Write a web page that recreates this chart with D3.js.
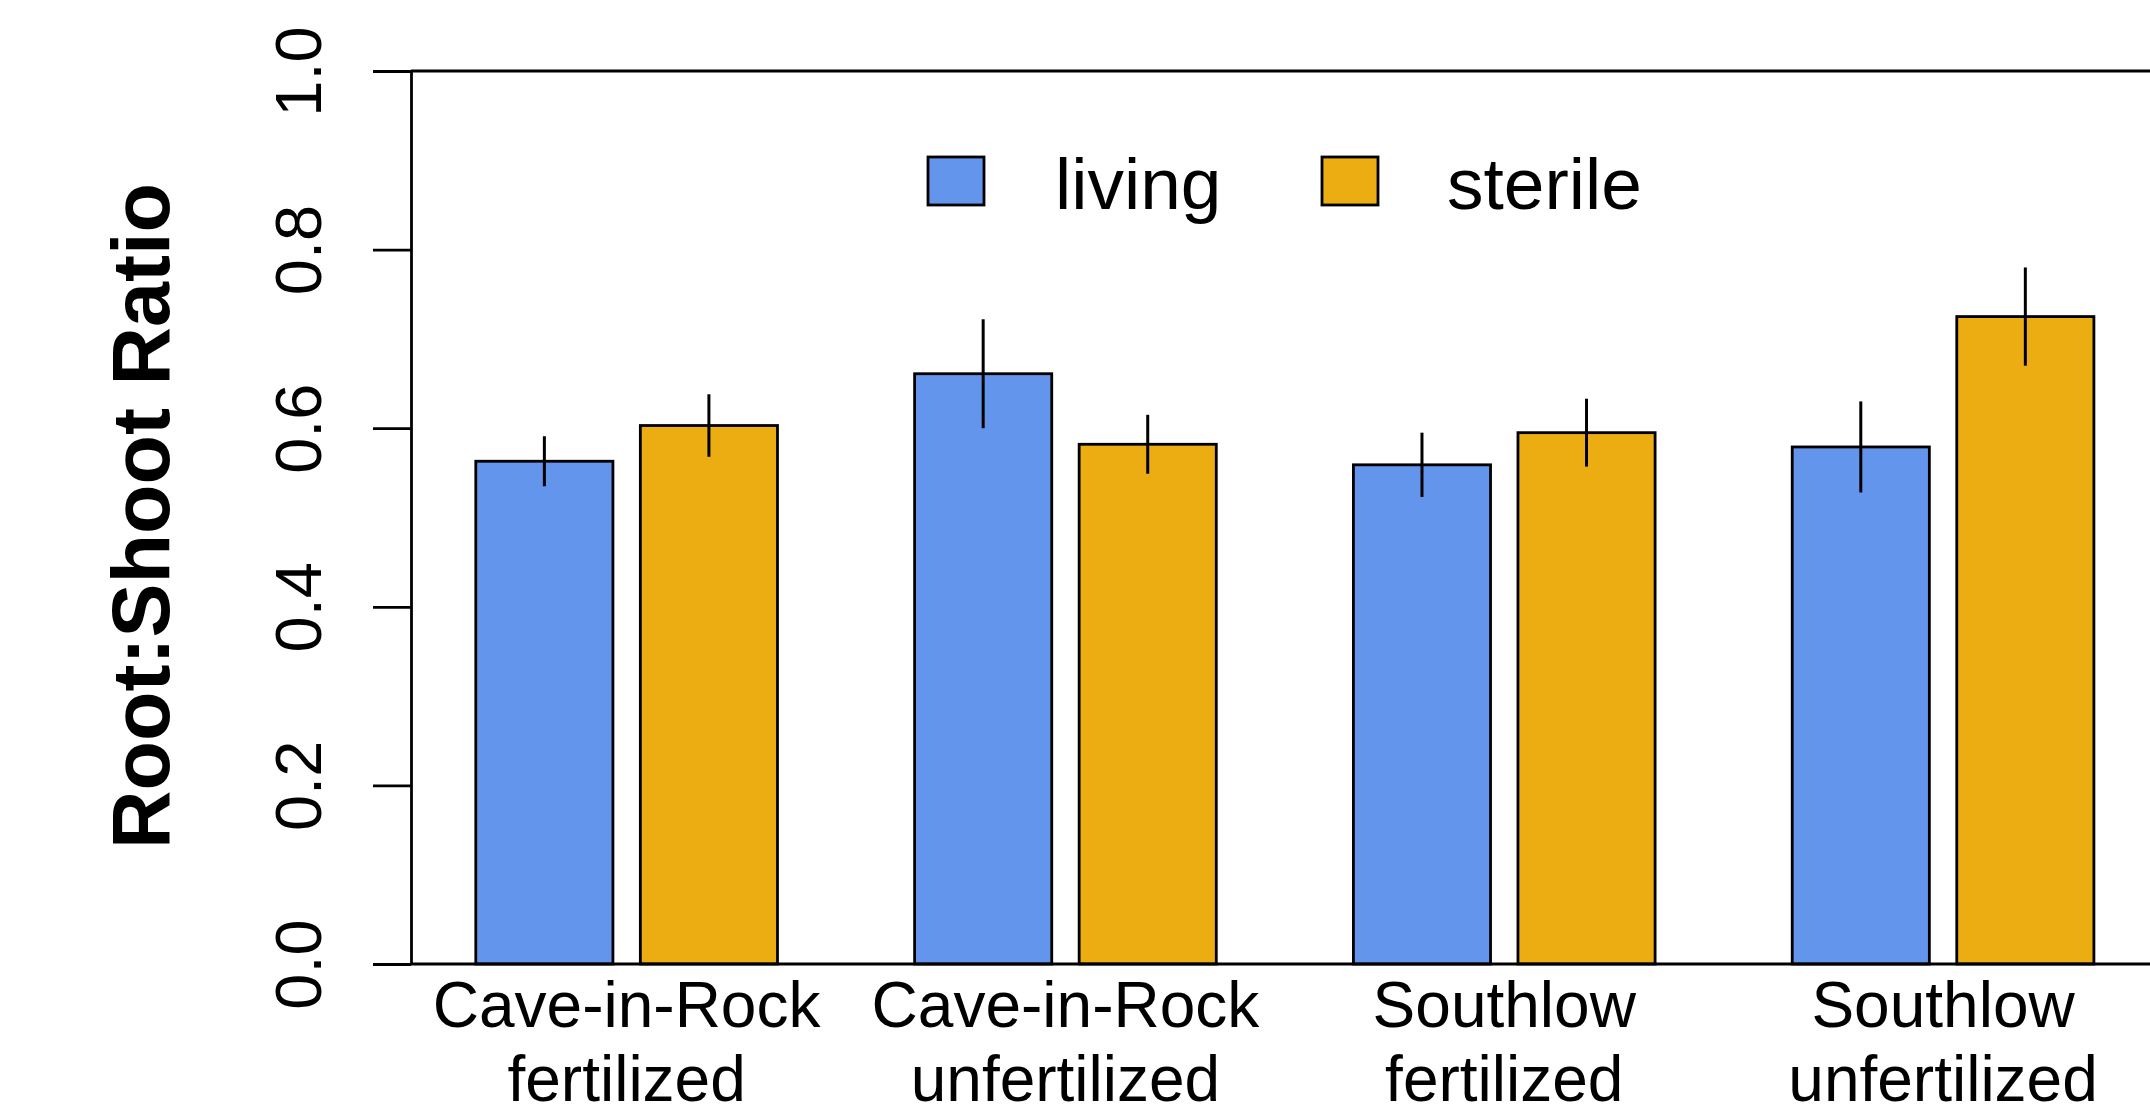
<!DOCTYPE html>
<html>
<head>
<meta charset="utf-8">
<script src="https://cdn.jsdelivr.net/npm/d3@7"></script>
<style>
  body { margin: 0; background: #fff; }
  text { font-family: "Liberation Sans", Arial, sans-serif; fill: #000; }
</style>
</head>
<body>
<svg width="2150" height="1118"></svg>
<script>
// data
const sites = ["Cave-in-Rock", "Cave-in-Rock", "Southlow", "Southlow"];
const treatments = ["fertilized", "unfertilized", "fertilized", "unfertilized"];
const series = ["living", "sterile"];
const living = [0.563, 0.661, 0.559, 0.579];
const sterile = [0.603, 0.582, 0.595, 0.725];
const livingSE = [0.028, 0.061, 0.036, 0.051];
const sterileSE = [0.035, 0.033, 0.038, 0.055];
const yTicks = [0, 0.2, 0.4, 0.6, 0.8, 1.0];
const colors = { living: "#6495ED", sterile: "#EBAD12" };

const groups = sites.map((s, i) => s + " " + treatments[i]);
const rows = [];
groups.forEach((g, i) => {
  rows.push({ group: g, key: "living", value: living[i], se: livingSE[i] });
  rows.push({ group: g, key: "sterile", value: sterile[i], se: sterileSE[i] });
});

const svg = d3.select("svg");
const axisX = 411, yTop = 71, yBottom = 964;

const y = d3.scaleLinear().domain([0, 1]).range([yBottom, yTop]);
const x0 = d3.scaleBand()
  .domain(groups)
  .range([475.8, 2093.9])
  .paddingInner(0.3125)
  .paddingOuter(0);
const x1 = d3.scaleBand()
  .domain(series)
  .range([0, x0.bandwidth()])
  .paddingInner(1 / 6)
  .paddingOuter(0);

// bars
svg.append("g").selectAll("rect")
  .data(rows)
  .enter()
  .append("rect")
  .attr("x", d => x0(d.group) + x1(d.key))
  .attr("y", d => y(d.value))
  .attr("width", x1.bandwidth())
  .attr("height", d => y(0) - y(d.value))
  .attr("fill", d => colors[d.key])
  .attr("stroke", "#000")
  .attr("stroke-width", 2.8);

// error bars (no caps)
svg.append("g").selectAll("line")
  .data(rows)
  .enter()
  .append("line")
  .attr("x1", d => x0(d.group) + x1(d.key) + x1.bandwidth() / 2)
  .attr("x2", d => x0(d.group) + x1(d.key) + x1.bandwidth() / 2)
  .attr("y1", d => y(d.value + d.se))
  .attr("y2", d => y(d.value - d.se))
  .attr("stroke", "#000")
  .attr("stroke-width", 3);

// y axis
const yAxis = svg.append("g")
  .attr("transform", `translate(${axisX},0)`)
  .call(d3.axisLeft(y).tickValues(yTicks).tickFormat(d3.format(".1f")).tickSize(38).tickSizeOuter(0));
yAxis.select(".domain").attr("stroke", "#000").attr("stroke-width", 2.8);
yAxis.selectAll(".tick line").attr("stroke", "#000").attr("stroke-width", 2.8);
yAxis.selectAll(".tick text")
  .attr("x", null).attr("dy", null)
  .attr("transform", "translate(-90,0) rotate(-90)")
  .attr("text-anchor", "middle")
  .attr("font-size", 65)
  .style("font-family", "'Liberation Sans', Arial, sans-serif");

// box top and bottom
[yTop, yBottom].forEach(v => {
  svg.append("line")
    .attr("x1", axisX).attr("x2", 2150)
    .attr("y1", v).attr("y2", v)
    .attr("stroke", "#000").attr("stroke-width", 2.8);
});

// x labels
const xl = svg.append("g").selectAll("text")
  .data(groups)
  .enter()
  .append("text")
  .attr("text-anchor", "middle")
  .attr("font-size", 64)
  .attr("x", d => x0(d) + x0.bandwidth() / 2);
xl.append("tspan").attr("x", d => x0(d) + x0.bandwidth() / 2).attr("y", 1027).text((d, i) => sites[i]);
xl.append("tspan").attr("x", d => x0(d) + x0.bandwidth() / 2).attr("y", 1101).text((d, i) => treatments[i]);

// y title
svg.append("text")
  .attr("transform", "translate(169,516) rotate(-90)")
  .attr("text-anchor", "middle")
  .attr("font-size", 81)
  .attr("font-weight", "bold")
  .text("Root:Shoot Ratio");

// legend
const legendX = [928, 1322];
const legendTextX = [1055, 1447];
const lg = svg.append("g").selectAll("g")
  .data(series)
  .enter()
  .append("g");
lg.append("rect")
  .attr("x", (d, i) => legendX[i])
  .attr("y", 157)
  .attr("width", 56)
  .attr("height", 48)
  .attr("fill", d => colors[d])
  .attr("stroke", "#000")
  .attr("stroke-width", 2.8);
lg.append("text")
  .attr("x", (d, i) => legendTextX[i])
  .attr("y", 209)
  .attr("font-size", 73)
  .text(d => d);
</script>
</body>
</html>
